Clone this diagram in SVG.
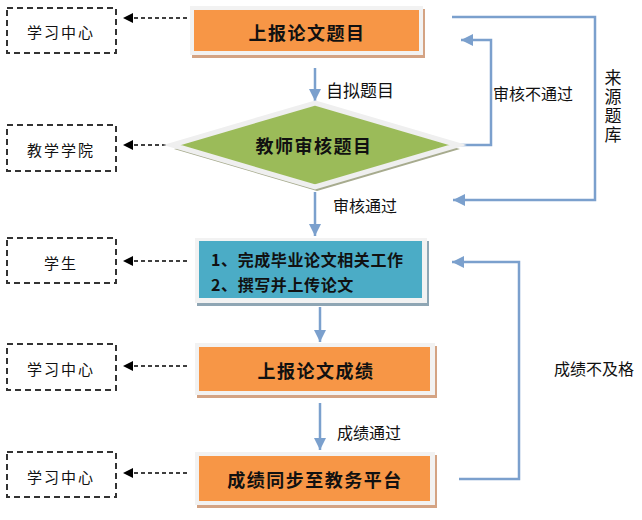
<svg xmlns="http://www.w3.org/2000/svg" width="642" height="520" viewBox="0 0 642 520">
<style>
.frame{fill:#F2F2F2}
.shOr{fill:#D4A383}
.orange{fill:#F79646}
.title{font-family:"Noto Sans CJK SC","Noto Sans",sans-serif;font-weight:bold;font-size:18px;fill:#111;text-anchor:middle;dominant-baseline:central;letter-spacing:1.5px}
.side{fill:#fff;stroke:#333;stroke-width:2;stroke-dasharray:6 4}
.sideT{font-family:"Noto Sans CJK SC","Noto Sans",sans-serif;font-size:15px;fill:#111;text-anchor:middle;dominant-baseline:central;letter-spacing:2px}
.lbl{font-family:"Noto Sans CJK SC","Noto Sans",sans-serif;font-size:16px;fill:#111;dominant-baseline:central}
.flow{fill:none;stroke:#7BA0CD;stroke-width:2.5;marker-end:url(#ab)}
.dash{fill:none;stroke:#000;stroke-width:1.3;stroke-dasharray:4 3;marker-end:url(#ak)}
</style>
<defs>
<marker id="ab" markerUnits="userSpaceOnUse" markerWidth="12" markerHeight="12" refX="10" refY="5" orient="auto" viewBox="0 0 10 10"><path d="M0,0 L10,5 L0,10 Z" fill="#7BA0CD"/></marker>
<marker id="ak" markerUnits="userSpaceOnUse" markerWidth="10" markerHeight="10" refX="9" refY="5" orient="auto" viewBox="0 0 10 10"><path d="M0,0 L10,5 L0,10 Z" fill="#000"/></marker>
</defs>

<g id="connectors">
<line class="flow" x1="315" y1="68" x2="315" y2="101"/>
<line class="flow" x1="315" y1="192" x2="315" y2="236"/>
<line class="flow" x1="320" y1="307" x2="320" y2="342"/>
<line class="flow" x1="320" y1="403" x2="320" y2="450"/>
<polyline class="flow" points="458,145 491,145 491,40 461,40"/>
<polyline class="flow" points="452,17 595,17 595,200 453,200"/>
<polyline class="flow" points="459,479 519,479 519,262 452,262"/>
<line class="dash" x1="187" y1="18" x2="124" y2="18"/>
<line class="dash" x1="173" y1="145" x2="124" y2="145"/>
<line class="dash" x1="187" y1="261" x2="124" y2="261"/>
<line class="dash" x1="187" y1="366" x2="124" y2="366"/>
<line class="dash" x1="187" y1="473" x2="124" y2="473"/>
<text class="lbl" x="326" y="89" style="font-size:17px">自拟题目</text>
<text class="lbl" x="493" y="93">审核不通过</text>
<text class="lbl" x="333" y="205">审核通过</text>
<text class="lbl" x="337" y="432">成绩通过</text>
<text class="lbl" x="554" y="368">成绩不及格</text>
<text class="lbl" x="613" y="69" style="font-size:17px;writing-mode:vertical-rl;letter-spacing:2px">来源题库</text>
</g>

<g id="n1">
<rect class="shOr" x="192" y="9" width="233" height="49"/>
<rect class="frame" x="190" y="6" width="233" height="49"/>
<rect class="orange" x="194" y="10" width="225" height="41"/>
<text class="title" x="307" y="32">上报论文题目</text>
</g>

<g id="n2">
<polygon points="317,108 460,149 317,191 174,149" fill="#A7AB8E"/>
<polygon points="315,103 458,145 315,187 172,145" fill="#9BBB59" stroke="#EFEFEF" stroke-width="5" stroke-linejoin="miter"/>
<text class="title" x="314" y="145">教师审核题目</text>
</g>

<g id="n3">
<rect x="197" y="241" width="232" height="65" fill="#8FA6B4"/>
<rect class="frame" x="195" y="238" width="232" height="65"/>
<rect x="199" y="241" width="223" height="57" fill="#4BACC6"/>
<text class="title" x="211" y="259" style="text-anchor:start;font-size:16px;letter-spacing:0.6px">1、完成毕业论文相关工作</text>
<text class="title" x="211" y="284" style="text-anchor:start;font-size:16px;letter-spacing:0.6px">2、撰写并上传论文</text>
</g>

<g id="n4">
<rect class="shOr" x="197" y="346" width="240" height="52"/>
<rect class="frame" x="195" y="343" width="240" height="52"/>
<rect class="orange" x="199" y="347" width="231" height="44"/>
<text class="title" x="316" y="370">上报论文成绩</text>
</g>

<g id="n5">
<rect class="shOr" x="197" y="455" width="240" height="53"/>
<rect class="frame" x="195" y="452" width="240" height="53"/>
<rect class="orange" x="199" y="456" width="231" height="45"/>
<text class="title" x="315" y="479">成绩同步至教务平台</text>
</g>

<g id="s1"><rect class="side" x="7" y="8" width="109" height="45"/><text class="sideT" x="61" y="31">学习中心</text></g>
<g id="s2"><rect class="side" x="7" y="125" width="109" height="46"/><text class="sideT" x="61" y="149">教学学院</text></g>
<g id="s3"><rect class="side" x="7" y="238" width="109" height="45"/><text class="sideT" x="61" y="262">学生</text></g>
<g id="s4"><rect class="side" x="7" y="344" width="109" height="46"/><text class="sideT" x="61" y="368">学习中心</text></g>
<g id="s5"><rect class="side" x="7" y="452" width="109" height="45"/><text class="sideT" x="61" y="476">学习中心</text></g>
</svg>
